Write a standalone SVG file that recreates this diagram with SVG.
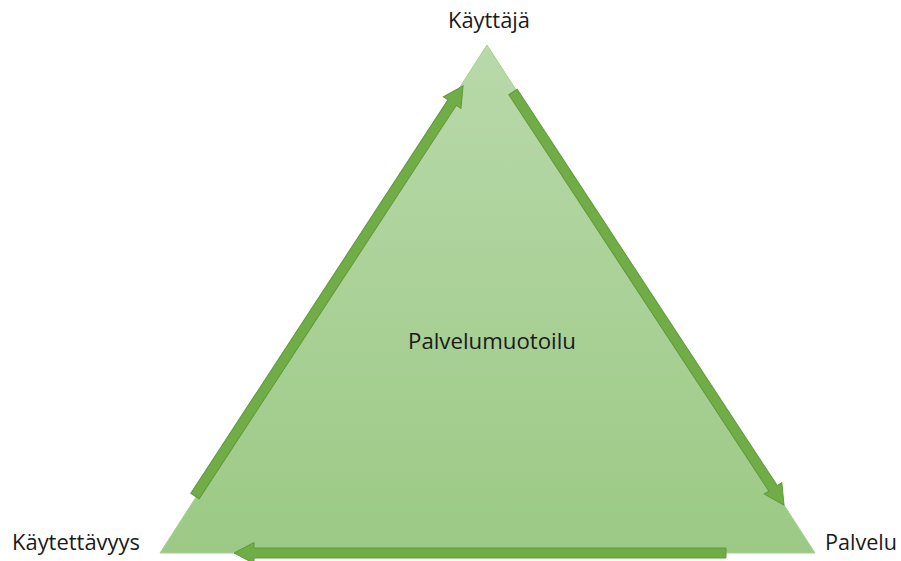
<svg xmlns="http://www.w3.org/2000/svg" width="901" height="561" viewBox="0 0 901 561">
  <defs>
    <linearGradient id="triGrad" x1="0" y1="0" x2="0" y2="1">
      <stop offset="0" stop-color="#b8d9aa"/>
      <stop offset="1" stop-color="#9cc985"/>
    </linearGradient>
  </defs>
  <style>
    .lbl { font-family: "Open Sans", "Liberation Sans", Arial, sans-serif; font-size: 21px; fill: #1a1a1a; }
    .arrow { fill: #70ad47; stroke: #5e9a3a; stroke-width: 1; }
  </style>
  <rect width="901" height="561" fill="#ffffff"/>
  <g id="triangle">
    <polygon points="487,45 815,553 160,553" fill="url(#triGrad)" stroke="#a6d08f" stroke-width="1"/>
    <text class="lbl" x="408" y="349" textLength="168" lengthAdjust="spacingAndGlyphs">Palvelumuotoilu</text>
  </g>
  <g id="node-kayttaja">
    <text class="lbl" x="448" y="28" textLength="82" lengthAdjust="spacingAndGlyphs">Käyttäjä</text>
  </g>
  <g id="node-kaytettavyys">
    <text class="lbl" x="12" y="550" textLength="128" lengthAdjust="spacingAndGlyphs">Käytettävyys</text>
  </g>
  <g id="node-palvelu">
    <text class="lbl" x="825" y="550" textLength="72" lengthAdjust="spacingAndGlyphs">Palvelu</text>
  </g>
  <g id="connectors">
    <path class="arrow" transform="translate(195,496) rotate(-56.83)" d="M0,-5 L470,-5 L470,-10.5 L490,0 L470,10.5 L470,5 L0,5 Z"/>
    <path class="arrow" transform="translate(513,92) rotate(56.73)" d="M0,-5 L474,-5 L474,-10.5 L494,0 L474,10.5 L474,5 L0,5 Z"/>
    <path class="arrow" transform="translate(726,553) rotate(180)" d="M0,-5 L472,-5 L472,-10.5 L492,0 L472,10.5 L472,5 L0,5 Z"/>
  </g>
</svg>
